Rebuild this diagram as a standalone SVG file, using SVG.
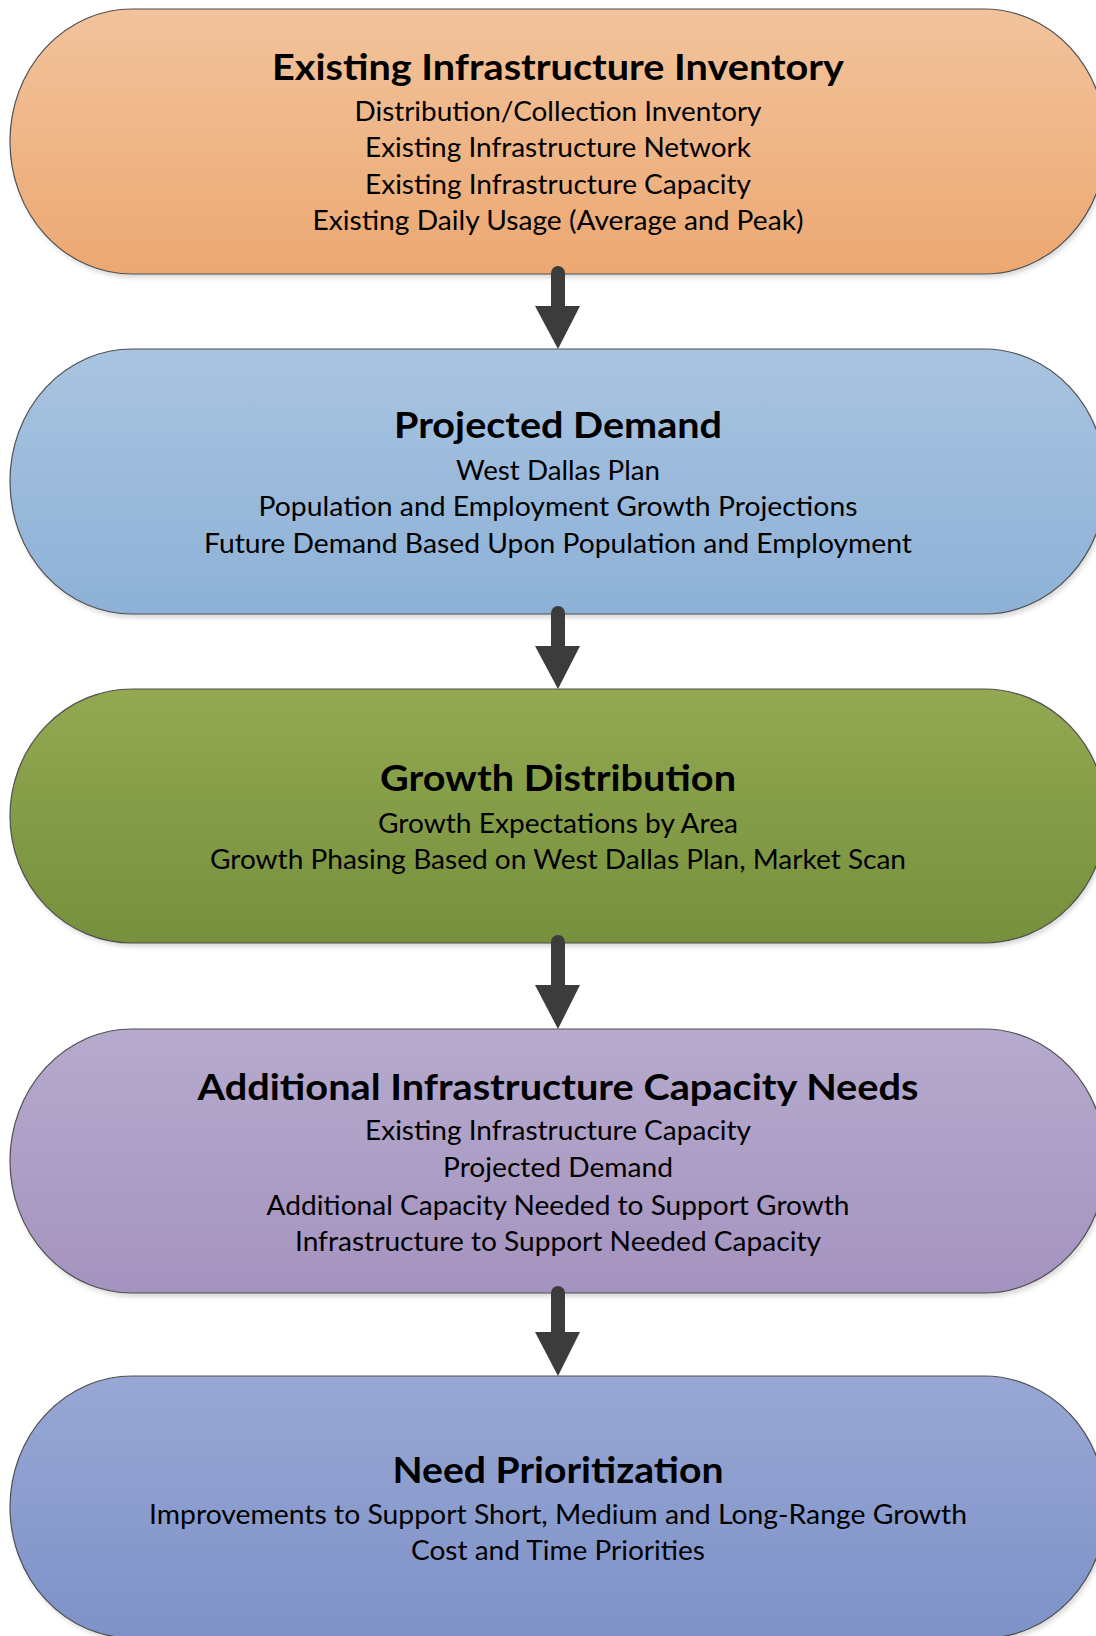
<svg xmlns="http://www.w3.org/2000/svg" width="1096" height="1636" viewBox="0 0 1096 1636">
  <defs>
    <linearGradient id="gOrange" x1="0" y1="0" x2="0" y2="1">
      <stop offset="0" stop-color="#F2C39C"/>
      <stop offset="1" stop-color="#ECA872"/>
    </linearGradient>
    <linearGradient id="gBlue" x1="0" y1="0" x2="0" y2="1">
      <stop offset="0" stop-color="#A9C4E0"/>
      <stop offset="1" stop-color="#8DB1D7"/>
    </linearGradient>
    <linearGradient id="gGreen" x1="0" y1="0" x2="0" y2="1">
      <stop offset="0" stop-color="#93A851"/>
      <stop offset="1" stop-color="#76903D"/>
    </linearGradient>
    <linearGradient id="gPurple" x1="0" y1="0" x2="0" y2="1">
      <stop offset="0" stop-color="#B6AACD"/>
      <stop offset="1" stop-color="#A493BF"/>
    </linearGradient>
    <linearGradient id="gIndigo" x1="0" y1="0" x2="0" y2="1">
      <stop offset="0" stop-color="#98A7D4"/>
      <stop offset="1" stop-color="#7E92C8"/>
    </linearGradient>
    <filter id="soft" x="-5%" y="-5%" width="110%" height="115%">
      <feGaussianBlur stdDeviation="2"/>
    </filter>
  </defs>
  <style>
    .shadow { fill: #bdbdbd; opacity: 0.55; }
    .box { stroke: #4f4f4f; stroke-width: 1.2; }
    .title { font-family: Lato, "Open Sans", sans-serif; font-weight: bold; font-size: 36px; fill: #000; text-anchor: middle; }
    .line { font-family: Lato, "Open Sans", sans-serif; font-size: 27px; fill: #000; text-anchor: middle; }
    .shaft { stroke: #3c3c3c; stroke-width: 14; stroke-linecap: round; fill: none; }
    .head { fill: #3c3c3c; }
  </style>

  <rect width="1096" height="1636" fill="#ffffff"/>

  <!-- Step 1 -->
  <g id="existing-inventory">
    <rect class="shadow" x="12" y="13" width="1096" height="265" rx="122" ry="132" filter="url(#soft)"/>
    <rect class="box" x="10" y="9" width="1096" height="265" rx="122" ry="132" fill="url(#gOrange)"/>
    <text class="title" x="558" y="80" textLength="572" lengthAdjust="spacingAndGlyphs">Existing Infrastructure Inventory</text>
    <text class="line" x="558" y="121" textLength="407" lengthAdjust="spacingAndGlyphs">Distribution/Collection Inventory</text>
    <text class="line" x="558" y="157" textLength="386" lengthAdjust="spacingAndGlyphs">Existing Infrastructure Network</text>
    <text class="line" x="558" y="194" textLength="386" lengthAdjust="spacingAndGlyphs">Existing Infrastructure Capacity</text>
    <text class="line" x="558" y="230" textLength="491" lengthAdjust="spacingAndGlyphs">Existing Daily Usage (Average and Peak)</text>
  </g>

  <!-- Step 2 -->
  <g id="projected-demand">
    <rect class="shadow" x="12" y="353" width="1096" height="265" rx="122" ry="132" filter="url(#soft)"/>
    <rect class="box" x="10" y="349" width="1096" height="265" rx="122" ry="132" fill="url(#gBlue)"/>
    <text class="title" x="558" y="438" textLength="328" lengthAdjust="spacingAndGlyphs">Projected Demand</text>
    <text class="line" x="558" y="480" textLength="204" lengthAdjust="spacingAndGlyphs">West Dallas Plan</text>
    <text class="line" x="558" y="516" textLength="599" lengthAdjust="spacingAndGlyphs">Population and Employment Growth Projections</text>
    <text class="line" x="558" y="553" textLength="708" lengthAdjust="spacingAndGlyphs">Future Demand Based Upon Population and Employment</text>
  </g>

  <!-- Step 3 -->
  <g id="growth-distribution">
    <rect class="shadow" x="12" y="693" width="1096" height="254" rx="122" ry="127" filter="url(#soft)"/>
    <rect class="box" x="10" y="689" width="1096" height="254" rx="122" ry="127" fill="url(#gGreen)"/>
    <text class="title" x="558" y="791" textLength="356" lengthAdjust="spacingAndGlyphs">Growth Distribution</text>
    <text class="line" x="558" y="833" textLength="360" lengthAdjust="spacingAndGlyphs">Growth Expectations by Area</text>
    <text class="line" x="558" y="869" textLength="696" lengthAdjust="spacingAndGlyphs">Growth Phasing Based on West Dallas Plan, Market Scan</text>
  </g>

  <!-- Step 4 -->
  <g id="capacity-needs">
    <rect class="shadow" x="12" y="1033" width="1096" height="264" rx="122" ry="132" filter="url(#soft)"/>
    <rect class="box" x="10" y="1029" width="1096" height="264" rx="122" ry="132" fill="url(#gPurple)"/>
    <text class="title" x="558" y="1100" textLength="721" lengthAdjust="spacingAndGlyphs">Additional Infrastructure Capacity Needs</text>
    <text class="line" x="558" y="1140" textLength="386" lengthAdjust="spacingAndGlyphs">Existing Infrastructure Capacity</text>
    <text class="line" x="558" y="1177" textLength="230" lengthAdjust="spacingAndGlyphs">Projected Demand</text>
    <text class="line" x="558" y="1215" textLength="583" lengthAdjust="spacingAndGlyphs">Additional Capacity Needed to Support Growth</text>
    <text class="line" x="558" y="1251" textLength="526" lengthAdjust="spacingAndGlyphs">Infrastructure to Support Needed Capacity</text>
  </g>

  <!-- Step 5 -->
  <g id="need-prioritization">
    <rect class="shadow" x="12" y="1380" width="1096" height="262" rx="122" ry="131" filter="url(#soft)"/>
    <rect class="box" x="10" y="1376" width="1096" height="262" rx="122" ry="131" fill="url(#gIndigo)"/>
    <text class="title" x="558" y="1483" textLength="331" lengthAdjust="spacingAndGlyphs">Need Prioritization</text>
    <text class="line" x="558" y="1524" textLength="818" lengthAdjust="spacingAndGlyphs">Improvements to Support Short, Medium and Long-Range Growth</text>
    <text class="line" x="558" y="1560" textLength="294" lengthAdjust="spacingAndGlyphs">Cost and Time Priorities</text>
  </g>

  <!-- Down arrows between steps -->
  <g id="connectors">
    <line class="shaft" x1="558" y1="273" x2="558" y2="310"/>
    <polygon class="head" points="535,306 580,306 558,349"/>
    <line class="shaft" x1="558" y1="613" x2="558" y2="650"/>
    <polygon class="head" points="535,646 580,646 558,689"/>
    <line class="shaft" x1="558" y1="942" x2="558" y2="989"/>
    <polygon class="head" points="535,985 580,985 558,1029"/>
    <line class="shaft" x1="558" y1="1293" x2="558" y2="1336"/>
    <polygon class="head" points="535,1332 580,1332 558,1376"/>
  </g>
</svg>
